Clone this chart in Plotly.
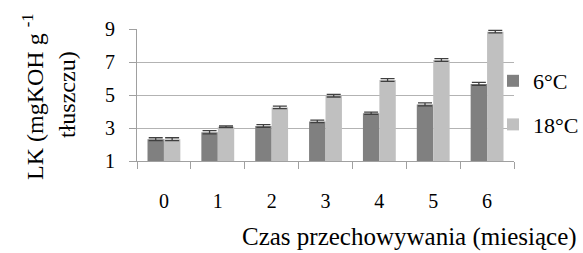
import plotly.graph_objects as go

categories = ["0", "1", "2", "3", "4", "5", "6"]
lk_6C = [2.32, 2.74, 3.12, 3.40, 3.89, 4.43, 5.67]
lk_18C = [2.32, 3.08, 4.25, 4.96, 5.91, 7.12, 8.84]
err_6C = [0.09, 0.10, 0.08, 0.08, 0.07, 0.09, 0.09]
err_18C = [0.09, 0.05, 0.08, 0.08, 0.08, 0.08, 0.08]
series_names = ["6°C", "18°C"]
y_ticks = [1, 3, 5, 7, 9]

FONT = "Liberation Serif, Times New Roman, serif"

fig = go.Figure()
fig.add_trace(go.Bar(
    x=categories, y=lk_6C, name=series_names[0], legendgroup="a",
    marker=dict(color="#808080", line=dict(width=0)),
    error_y=dict(type="data", array=err_6C, color="#404040", thickness=1.3, width=7),
))
fig.add_trace(go.Bar(
    x=categories, y=lk_18C, name=series_names[1], legendgroup="b",
    marker=dict(color="#c0c0c0", line=dict(width=0)),
    error_y=dict(type="data", array=err_18C, color="#404040", thickness=1.3, width=7),
))

L, R, T, B = 137, 69, 29, 92
W, H = 583, 253
pw, ph = W - L - R, H - T - B

def px(x):
    return (x - L) / pw

def py(y):
    return (H - B - y) / ph

fig.update_layout(
    width=W, height=H,
    margin=dict(l=L, r=R, t=T, b=B, pad=0, autoexpand=False),
    paper_bgcolor="white", plot_bgcolor="white",
    barmode="group", bargap=0.39, bargroupgap=0,
    font=dict(family=FONT, size=20, color="black"),
    showlegend=True,
    legend=dict(
        x=px(493), y=py(60), xanchor="left", yanchor="top",
        font=dict(family=FONT, size=22, color="black"),
        tracegroupgap=12, traceorder="grouped",
        bgcolor="rgba(0,0,0,0)", itemwidth=30,
    ),
    xaxis=dict(
        type="category", tickson="boundaries", ticks="outside", ticklen=7,
        tickcolor="#a0a0a0", showline=True, linecolor="#a0a0a0", linewidth=1,
        showgrid=False, ticklabelstandoff=22,
        tickfont=dict(family=FONT, size=20, color="black"),
    ),
    yaxis=dict(
        range=[1, 9], tickvals=y_ticks, ticks="outside", ticklen=7,
        tickcolor="#a0a0a0", showline=True, linecolor="#a0a0a0", linewidth=1,
        showgrid=True, gridcolor="#b3b3b3", gridwidth=1, zeroline=False,
        ticklabelstandoff=10,
        tickfont=dict(family=FONT, size=20, color="black"),
    ),
    annotations=[
        dict(text="LK (mgKOH g <sup>-1</sup>", xref="paper", yref="paper",
             x=px(33), y=py(97), xanchor="center", yanchor="middle",
             textangle=-90, showarrow=False,
             font=dict(family=FONT, size=24, color="black")),
        dict(text="tłuszczu)", xref="paper", yref="paper",
             x=px(67), y=py(95), xanchor="center", yanchor="middle",
             textangle=-90, showarrow=False,
             font=dict(family=FONT, size=24, color="black")),
        dict(text="Czas przechowywania (miesiące)", xref="paper", yref="paper",
             x=px(579), y=py(253), xanchor="right", yanchor="bottom",
             showarrow=False,
             font=dict(family=FONT, size=25, color="black")),
    ],
)

fig.write_html("out.html", config={"displayModeBar": False},
               post_script="document.body.style.margin='0';")
